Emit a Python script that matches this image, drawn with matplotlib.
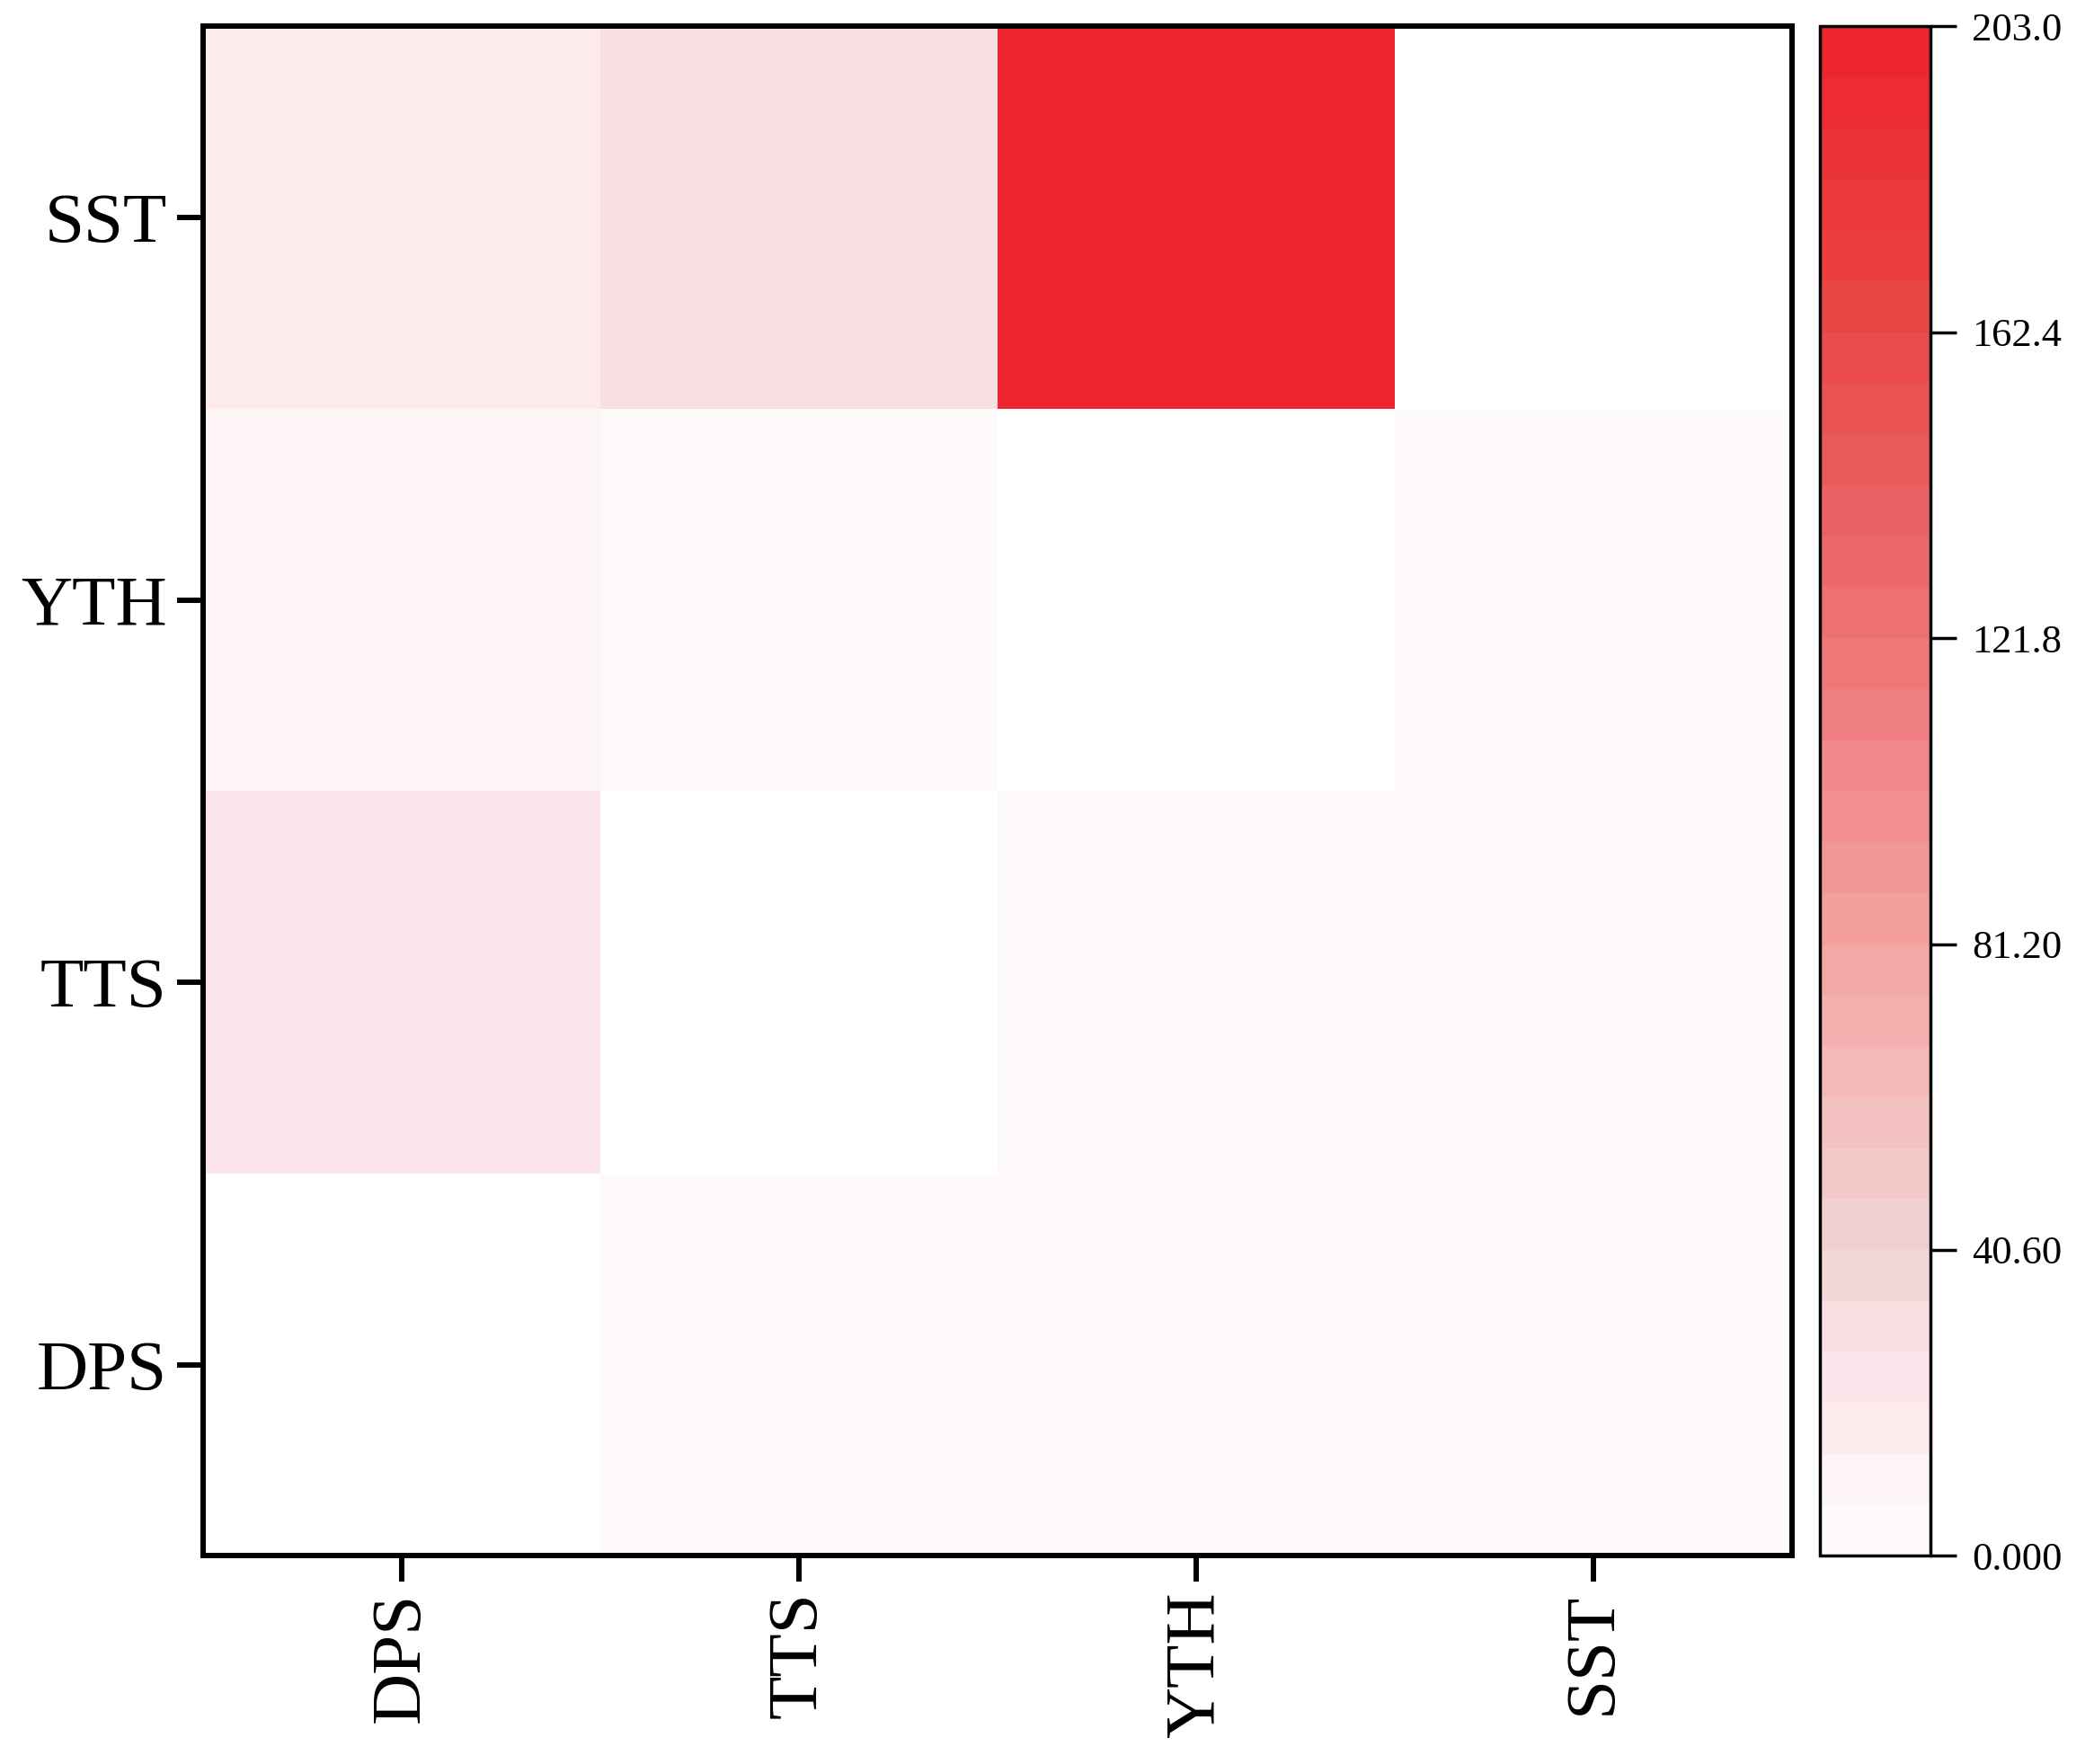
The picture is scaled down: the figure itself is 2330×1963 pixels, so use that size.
import numpy as np
import matplotlib
matplotlib.use("Agg")
import matplotlib.pyplot as plt
from matplotlib.colors import LinearSegmentedColormap, BoundaryNorm

rows = ["SST", "YTH", "TTS", "DPS"]
cols = ["DPS", "TTS", "YTH", "SST"]
values = np.array([
    [14.0, 30.0, 200.0, 0.0],
    [8.0, 3.0, 0.0, 3.0],
    [22.0, 0.0, 3.0, 3.0],
    [0.0, 3.0, 3.0, 3.0],
])
cbar_ticks = [0.0, 40.6, 81.2, 121.8, 162.4, 203.0]
cbar_labels = ["0.000", "40.60", "81.20", "121.8", "162.4", "203.0"]

plt.rcParams['font.family'] = ['Liberation Serif', 'DejaVu Serif']
cmap = LinearSegmentedColormap.from_list("wr", [
    (0.0, "#fefafa"), (0.04, "#fdf3f3"), (0.08, "#fde6e6"), (0.115, "#fce4ec"),
    (0.15, "#f5dcdc"), (0.2, "#f0d2d0"), (0.27, "#f4c2c2"), (0.4, "#f3a2a0"),
    (0.5, "#f08a8e"), (0.6, "#ef7474"), (0.72, "#e95a5c"), (0.85, "#ea4040"),
    (1.0, "#ec2430")], N=256)
cmap.set_bad("white")
levels = np.linspace(0, 203.0, 31)
norm = BoundaryNorm(levels, cmap.N)

fig = plt.figure(figsize=(23.3, 19.63), dpi=100)
ax = fig.add_axes([0.097, 0.118, 0.759, 0.867])
cax = fig.add_axes([0.869, 0.118, 0.053, 0.867])
data = np.ma.masked_where(values == 0, values)[::-1]
im = ax.pcolormesh(np.arange(5), np.arange(5), data, cmap=cmap, norm=norm)
ax.set_xticks(np.arange(4) + 0.5)
ax.set_xticklabels(cols, rotation=90, fontsize=57)
ax.set_yticks(np.arange(4) + 0.5)
ax.set_yticklabels(rows[::-1], fontsize=57)
ax.tick_params(width=4.3, length=21, pad=8)
for s in ax.spines.values():
    s.set_linewidth(4.3)
cb = fig.colorbar(im, cax=cax, ticks=cbar_ticks)
cb.ax.minorticks_off()
cb.ax.set_yticklabels(cbar_labels, fontsize=32)
cb.ax.tick_params(width=2.5, length=21, pad=12)
cb.outline.set_linewidth(2.5)
fig.savefig("out.png", dpi=100)
